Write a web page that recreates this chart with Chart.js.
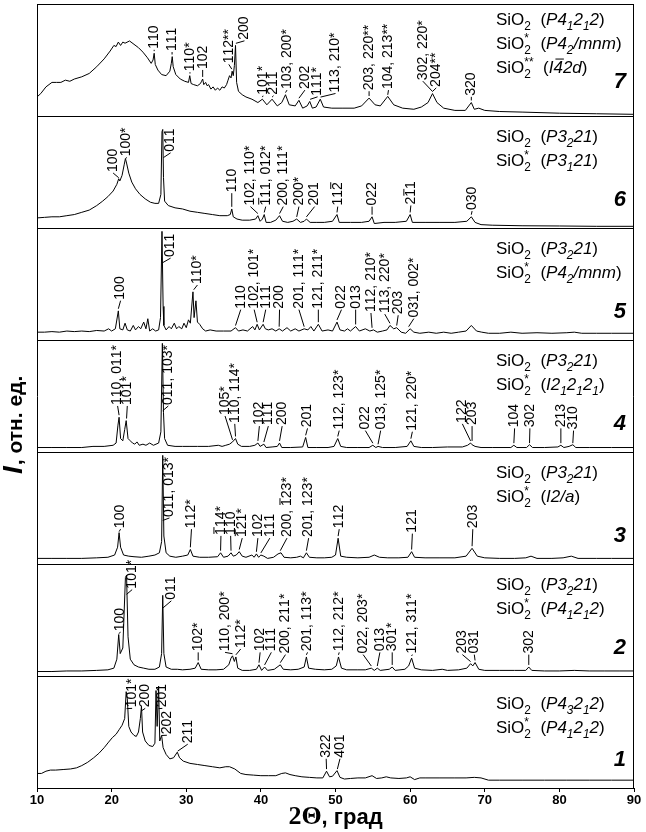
<!DOCTYPE html>
<html>
<head>
<meta charset="utf-8">
<script src="https://cdn.jsdelivr.net/npm/chart.js@4.4.0/dist/chart.umd.min.js"></script>
<style>
  html, body { margin: 0; padding: 0; background: #fff; }
</style>
</head>
<body>
<canvas id="xrd" width="646" height="832"></canvas>
<script>
const FONT = '"Liberation Sans", Arial, sans-serif';

// 2Theta axis
const xTicks = [10, 20, 30, 40, 50, 60, 70, 80, 90];

// spectra, [2theta, intensity as part of panel height], bottom panel = 1
const spec1 = [[10,0.13],[10.6,0.13],[11.2,0.15],[11.8,0.16],[12.5,0.16],[13.5,0.165],[14.5,0.17],[15.3,0.18],[16.0,0.2],[16.8,0.23],[17.6,0.27],[18.3,0.31],[19.0,0.36],[19.6,0.41],[20.1,0.45],[20.6,0.48],[21.0,0.52],[21.4,0.56],[21.75,0.62],[21.95,0.86],[22.1,0.8],[22.3,0.55],[22.6,0.5],[23.0,0.47],[23.3,0.46],[23.6,0.5],[23.85,0.62],[24.0,0.73],[24.15,0.5],[24.5,0.42],[25.0,0.38],[25.5,0.37],[25.8,0.4],[25.95,0.87],[26.1,0.55],[26.3,0.91],[26.45,0.42],[26.7,0.47],[26.9,0.36],[27.3,0.3],[27.8,0.26],[28.3,0.27],[28.8,0.32],[29.1,0.27],[29.6,0.24],[30.5,0.22],[31.5,0.21],[32.5,0.2],[33.5,0.19],[34.5,0.18],[35.3,0.19],[35.8,0.19],[36.5,0.17],[37.3,0.13],[38,0.12],[39,0.115],[40,0.11],[41,0.11],[42,0.11],[42.8,0.13],[43.3,0.135],[43.9,0.12],[44.6,0.11],[45.5,0.1],[46.5,0.095],[47.5,0.09],[48.3,0.09],[48.8,0.15],[49.2,0.1],[49.6,0.105],[50.2,0.155],[50.6,0.095],[51.2,0.08],[52,0.085],[53,0.09],[54,0.09],[54.9,0.11],[55.5,0.085],[56.2,0.09],[56.8,0.1],[57.4,0.09],[58.5,0.085],[59.5,0.09],[60,0.1],[60.6,0.075],[61.3,0.09],[62,0.09],[64,0.09],[66,0.09],[67.5,0.09],[68.6,0.095],[69.5,0.09],[70.5,0.07],[72,0.07],[75,0.07],[78,0.07],[81,0.07],[84,0.07],[87,0.07],[90,0.07]];

const spec2 = [[10,0.04],[12,0.04],[14,0.045],[16,0.045],[18,0.05],[19.5,0.055],[20.3,0.07],[20.7,0.15],[20.95,0.37],[21.15,0.2],[21.5,0.25],[21.85,0.88],[22.0,0.9],[22.2,0.35],[22.5,0.15],[23.0,0.1],[23.6,0.08],[24.3,0.07],[25,0.06],[25.8,0.06],[26.4,0.08],[26.7,0.2],[26.85,0.72],[27.0,0.2],[27.3,0.08],[28,0.06],[28.8,0.06],[29.5,0.055],[30.5,0.06],[31.2,0.07],[31.6,0.12],[32.0,0.06],[33,0.055],[34,0.055],[35,0.06],[35.7,0.1],[36.0,0.16],[36.2,0.18],[36.45,0.13],[36.65,0.17],[36.9,0.07],[37.5,0.05],[38.5,0.05],[39.4,0.06],[39.75,0.1],[40.1,0.05],[40.5,0.08],[40.9,0.05],[41.8,0.06],[42.6,0.1],[43,0.06],[44,0.055],[45,0.06],[45.8,0.08],[46.1,0.17],[46.4,0.07],[47.3,0.06],[48.5,0.055],[49.5,0.06],[50.1,0.09],[50.4,0.17],[50.8,0.07],[51.5,0.055],[53,0.055],[54,0.055],[54.8,0.07],[55.2,0.05],[55.6,0.07],[56,0.05],[57.2,0.06],[57.6,0.08],[58,0.05],[59.3,0.06],[59.8,0.09],[60.2,0.16],[60.6,0.07],[61.5,0.055],[63,0.05],[64.3,0.06],[65,0.05],[66.5,0.055],[67.6,0.07],[68.1,0.11],[68.4,0.09],[68.7,0.12],[69.2,0.06],[70,0.05],[72,0.05],[74,0.05],[75.5,0.05],[75.9,0.08],[76.3,0.05],[78,0.045],[80,0.045],[82,0.05],[84,0.045],[86,0.045],[88,0.045],[90,0.045]];

const spec3 = [[10,0.05],[12,0.05],[14,0.05],[16,0.05],[18,0.055],[19.5,0.06],[20.4,0.08],[20.8,0.15],[21.0,0.28],[21.2,0.15],[21.6,0.08],[22.3,0.07],[23,0.065],[24,0.06],[25,0.07],[25.8,0.08],[26.4,0.1],[26.7,0.2],[26.85,0.97],[27.0,0.25],[27.3,0.1],[27.8,0.07],[28.6,0.06],[29.5,0.07],[30.2,0.08],[30.55,0.13],[30.9,0.07],[31.8,0.06],[33,0.06],[34.2,0.065],[34.6,0.1],[35,0.06],[35.6,0.07],[36.0,0.1],[36.3,0.07],[36.7,0.08],[37.1,0.11],[37.5,0.07],[38,0.06],[38.8,0.08],[39.1,0.06],[39.4,0.09],[39.7,0.06],[40.0,0.08],[40.4,0.07],[40.9,0.05],[41.7,0.06],[42.3,0.09],[42.7,0.1],[43.1,0.06],[44,0.055],[44.8,0.06],[45.3,0.07],[45.7,0.055],[46.1,0.1],[46.5,0.06],[47.5,0.055],[48.5,0.055],[49.5,0.06],[50.0,0.08],[50.35,0.23],[50.7,0.07],[51.5,0.06],[53,0.055],[54.5,0.06],[55.2,0.08],[55.9,0.06],[57,0.055],[58.5,0.055],[59.7,0.06],[60.2,0.11],[60.6,0.06],[62,0.055],[64,0.055],[66,0.055],[67.5,0.07],[68.3,0.14],[69.0,0.07],[70,0.055],[72,0.05],[74,0.05],[75.5,0.055],[76.2,0.07],[77,0.05],[79,0.05],[80.5,0.055],[81.6,0.07],[82.5,0.05],[85,0.05],[87,0.05],[90,0.05]];

const spec4 = [[10,0.04],[12,0.04],[14,0.04],[16,0.04],[17.5,0.05],[19,0.05],[20.2,0.06],[20.6,0.08],[20.85,0.24],[21.0,0.31],[21.2,0.12],[21.5,0.1],[21.75,0.2],[21.95,0.28],[22.2,0.12],[22.5,0.1],[22.8,0.08],[23.1,0.07],[23.4,0.09],[23.7,0.06],[24.2,0.07],[24.6,0.06],[25.1,0.08],[25.6,0.06],[26.3,0.08],[26.6,0.18],[26.8,0.97],[26.95,0.35],[27.1,0.12],[27.5,0.06],[28.5,0.05],[29.5,0.05],[30.5,0.05],[31.5,0.05],[33,0.05],[34.3,0.06],[34.8,0.05],[35.3,0.06],[35.8,0.07],[36.2,0.09],[36.6,0.12],[36.9,0.07],[37.4,0.05],[38.5,0.05],[39.2,0.06],[39.6,0.08],[39.9,0.05],[40.4,0.07],[40.7,0.04],[41.5,0.045],[42.2,0.05],[42.5,0.08],[42.8,0.04],[44,0.04],[45.6,0.045],[46.0,0.13],[46.3,0.04],[47.5,0.04],[49,0.04],[49.8,0.05],[50.3,0.12],[50.7,0.05],[51.5,0.04],[53,0.04],[54.5,0.04],[55.0,0.06],[55.4,0.04],[55.7,0.05],[56.3,0.04],[58,0.04],[59.6,0.05],[60.1,0.1],[60.5,0.05],[61.5,0.04],[63,0.04],[65,0.045],[67,0.045],[67.7,0.06],[68.1,0.08],[68.3,0.065],[68.7,0.05],[69.5,0.04],[71,0.04],[73.5,0.04],[73.9,0.06],[74.3,0.04],[75.6,0.04],[76.0,0.065],[76.4,0.04],[78,0.04],[79.8,0.045],[80.2,0.06],[80.6,0.04],[81.3,0.05],[81.8,0.065],[82.2,0.04],[84,0.04],[87,0.04],[90,0.04]];

const spec5 = [[10,0.07],[11,0.07],[12,0.075],[13,0.07],[14,0.08],[15,0.075],[16,0.08],[17,0.075],[18,0.085],[19,0.08],[19.6,0.1],[20.0,0.08],[20.5,0.1],[20.9,0.26],[21.1,0.1],[21.5,0.09],[21.8,0.15],[22.1,0.09],[22.5,0.08],[22.9,0.13],[23.2,0.09],[23.6,0.12],[23.9,0.1],[24.3,0.16],[24.6,0.1],[24.85,0.19],[25.1,0.08],[25.5,0.1],[25.9,0.08],[26.3,0.09],[26.55,0.2],[26.75,0.97],[26.9,0.3],[27.0,0.13],[27.3,0.09],[27.7,0.12],[28.0,0.1],[28.4,0.15],[28.7,0.1],[29.0,0.12],[29.4,0.1],[29.7,0.15],[30.0,0.11],[30.3,0.18],[30.55,0.15],[30.9,0.43],[31.05,0.2],[31.3,0.35],[31.5,0.16],[31.8,0.14],[32.2,0.1],[32.6,0.08],[33.2,0.09],[34,0.08],[35,0.08],[36,0.08],[36.6,0.11],[37,0.08],[37.6,0.09],[38.2,0.08],[38.9,0.12],[39.2,0.09],[39.5,0.14],[39.8,0.09],[40.3,0.14],[40.6,0.1],[41,0.09],[41.5,0.1],[42.0,0.08],[42.45,0.1],[42.9,0.08],[43.5,0.11],[44,0.08],[44.6,0.1],[45.1,0.08],[45.8,0.1],[46.3,0.09],[46.7,0.12],[47.1,0.08],[47.7,0.14],[48.2,0.08],[49,0.09],[49.6,0.08],[50.2,0.16],[50.6,0.09],[51.2,0.08],[51.6,0.1],[52.0,0.08],[52.7,0.12],[53.2,0.08],[54,0.1],[54.6,0.08],[55.1,0.09],[55.6,0.07],[56.3,0.08],[56.9,0.09],[57.3,0.13],[57.8,0.1],[58.2,0.11],[58.8,0.07],[59.4,0.06],[60.0,0.1],[60.5,0.07],[61.3,0.06],[62.5,0.07],[63.5,0.06],[64.5,0.07],[65.5,0.06],[66.5,0.07],[67.5,0.08],[68.2,0.13],[68.9,0.08],[69.6,0.07],[70.5,0.06],[72,0.06],[73.5,0.07],[75,0.06],[77,0.065],[79,0.06],[81,0.065],[82,0.07],[83,0.06],[85,0.06],[87,0.06],[90,0.06]];

const spec6 = [[10,0.09],[11,0.095],[12,0.10],[13,0.10],[14,0.11],[15,0.12],[16,0.14],[17,0.16],[18,0.2],[18.8,0.24],[19.5,0.28],[20.2,0.33],[20.7,0.39],[20.95,0.44],[21.1,0.42],[21.4,0.47],[21.7,0.57],[21.85,0.62],[22.0,0.58],[22.3,0.49],[22.7,0.41],[23.2,0.35],[23.8,0.3],[24.5,0.26],[25.2,0.23],[25.8,0.22],[26.3,0.22],[26.6,0.30],[26.75,0.86],[26.85,0.88],[26.95,0.45],[27.1,0.24],[27.6,0.2],[28.5,0.18],[29.5,0.17],[30.5,0.15],[31.5,0.14],[32.5,0.13],[33.5,0.12],[34.5,0.11],[35.5,0.11],[35.9,0.12],[36.1,0.17],[36.3,0.1],[36.8,0.08],[37.5,0.07],[38.5,0.07],[39.3,0.08],[39.6,0.11],[39.9,0.06],[40.2,0.08],[40.45,0.12],[40.7,0.05],[41.3,0.05],[42.0,0.07],[42.5,0.11],[42.9,0.06],[43.6,0.05],[44.3,0.06],[44.8,0.08],[45.3,0.05],[45.8,0.06],[46.1,0.08],[46.6,0.05],[47.5,0.05],[48.5,0.05],[49.6,0.06],[50.2,0.12],[50.5,0.05],[52,0.05],[53.5,0.05],[54.5,0.06],[54.9,0.10],[55.2,0.04],[56.5,0.05],[58,0.05],[59.5,0.06],[60.0,0.12],[60.3,0.05],[62,0.05],[64,0.05],[66,0.05],[67.6,0.06],[68.2,0.10],[68.7,0.05],[69.5,0.03],[71,0.025],[75,0.02],[80,0.018],[85,0.015],[90,0.015]];

const spec7 = [[10.0,0.17],[10.5,0.2],[11.2,0.26],[12.0,0.3],[12.6,0.3],[13.2,0.3],[13.8,0.32],[14.4,0.31],[15.0,0.33],[16.0,0.35],[17.0,0.38],[18.0,0.44],[19.0,0.51],[19.8,0.58],[20.3,0.63],[20.6,0.62],[20.9,0.66],[21.2,0.63],[21.5,0.66],[21.8,0.65],[22.4,0.67],[23.0,0.64],[23.6,0.61],[24.2,0.57],[24.8,0.52],[25.3,0.47],[25.55,0.50],[25.7,0.56],[25.85,0.46],[26.2,0.41],[26.7,0.37],[27.3,0.36],[27.8,0.40],[28.0,0.47],[28.12,0.53],[28.25,0.44],[28.6,0.37],[29.2,0.33],[29.8,0.31],[30.3,0.30],[30.47,0.36],[30.65,0.29],[31.0,0.28],[31.5,0.27],[31.9,0.29],[32.05,0.31],[32.2,0.33],[32.35,0.28],[32.6,0.30],[32.8,0.27],[33.0,0.28],[33.3,0.24],[33.6,0.26],[33.9,0.23],[34.2,0.25],[34.5,0.23],[34.8,0.26],[35.1,0.25],[35.4,0.28],[35.6,0.32],[35.8,0.36],[36.0,0.34],[36.15,0.40],[36.3,0.36],[36.45,0.45],[36.6,0.63],[36.75,0.30],[37.0,0.22],[37.5,0.19],[38.0,0.17],[38.8,0.15],[39.6,0.12],[40.2,0.15],[40.8,0.10],[41.5,0.15],[42.2,0.09],[42.8,0.12],[43.3,0.19],[43.8,0.10],[44.6,0.09],[45.1,0.14],[45.6,0.07],[46.2,0.09],[46.55,0.13],[46.9,0.07],[47.4,0.08],[47.96,0.15],[48.4,0.08],[49.5,0.07],[51,0.07],[52.5,0.07],[53.5,0.09],[54.5,0.16],[55.3,0.10],[56.0,0.09],[57.0,0.175],[57.8,0.10],[59.0,0.07],[60.5,0.06],[61.5,0.08],[62.4,0.12],[63.0,0.2],[63.6,0.12],[64.5,0.07],[66,0.05],[67.4,0.05],[68.2,0.12],[68.6,0.06],[69.2,0.07],[70,0.05],[72,0.04],[75,0.035],[80,0.025],[85,0.02],[90,0.015]];

// peak labels: [text, text 2theta, text foot, peak 2theta, peak height]; "~" puts a bar over the next digit
const lab1 = [['101*',22.75,0.72,22.0,0.7],['200',24.5,0.72,24.0,0.68],['201',26.8,0.72,26.3,0.7],['202',27.4,0.48,26.75,0.46],['211',30.2,0.4,28.85,0.32],['322',48.75,0.27,48.8,0.16],['401',50.6,0.27,50.25,0.16]];
const lab2 = [['100',21.2,0.4,20.95,0.37],['101*',22.75,0.78,22.0,0.72],['011',28.0,0.68,26.9,0.6],['102*',31.6,0.22,31.6,0.13],['110, 200*',35.2,0.22,36.2,0.19],['112*',37.3,0.25,36.65,0.18],['102',39.9,0.22,39.75,0.11],['111',41.4,0.22,40.5,0.09],['200, 211*',43.3,0.2,42.6,0.11],['201, 113*',46.25,0.22,46.1,0.18],['112, 212*',50.5,0.22,50.4,0.18],['022, 203*',53.7,0.2,54.8,0.08],['013',55.95,0.22,55.6,0.08],['301*',57.6,0.22,57.6,0.09],['121, 311*',60.3,0.2,60.2,0.17],['203',67.0,0.2,68.1,0.12],['031',68.6,0.2,68.7,0.13],['302',75.9,0.2,75.9,0.09]];
const lab3 = [['100',21.2,0.32,21.0,0.28],['011, 013*',27.75,0.42,26.85,0.38],['112*',30.7,0.32,30.55,0.14],['~114*',34.65,0.26,34.6,0.11],['110',35.95,0.26,36.0,0.11],['~121*',37.5,0.24,37.1,0.12],['102',39.6,0.24,39.4,0.1],['111',41.2,0.24,40.0,0.09],['200, ~123*',43.5,0.24,42.6,0.11],['201, 123*',46.4,0.24,46.1,0.11],['112',50.5,0.32,50.35,0.24],['121',60.3,0.28,60.2,0.12],['203',68.4,0.32,68.3,0.15]];
const lab4 = [['110, 011*',20.8,0.42,21.0,0.32],['101*',22.1,0.42,22.0,0.29],['011, 103*',27.6,0.42,26.85,0.36],['105*',35.2,0.33,36.2,0.1],['110, 114*',36.5,0.26,36.6,0.13],['102',39.8,0.24,39.6,0.09],['111',41.0,0.24,40.4,0.08],['200',42.85,0.24,42.5,0.09],['201',46.25,0.22,46.0,0.14],['112, 123*',50.5,0.2,50.3,0.13],['022',54.0,0.2,55.0,0.07],['013, 125*',56.05,0.2,55.7,0.06],['121, 220*',60.3,0.19,60.1,0.11],['122',67.0,0.26,68.1,0.09],['203',68.3,0.24,68.3,0.09],['104',74.0,0.22,73.9,0.07],['302',76.05,0.22,76.0,0.07],['213',80.2,0.22,80.2,0.07],['310',81.9,0.2,81.8,0.07]];
const lab5 = [['100',21.2,0.36,20.9,0.27],['011',27.9,0.74,26.8,0.68],['110*',31.5,0.5,31.0,0.44],['110',37.3,0.28,36.6,0.12],['102, 101*',39.1,0.28,39.5,0.15],['111',40.65,0.28,40.3,0.15],['200',42.5,0.28,42.45,0.11],['201, 111*',45.1,0.28,45.8,0.11],['121, 211*',47.7,0.28,47.7,0.15],['022',50.8,0.28,50.2,0.17],['013',52.7,0.28,52.7,0.13],['112, 210*',54.75,0.25,54.9,0.1],['113, 220*',56.6,0.24,57.3,0.14],['203',58.4,0.23,58.2,0.12],['031, 002*',60.5,0.2,59.8,0.11]];
const lab6 = [['100',20.2,0.5,20.95,0.44],['100*',22.0,0.64,21.9,0.61],['011',27.9,0.68,26.95,0.62],['110',36.1,0.32,36.1,0.18],['102, 110*',38.6,0.2,39.6,0.12],['~111, 012*',40.65,0.2,40.45,0.13],['200, 111*',43.0,0.2,42.5,0.12],['200*',45.1,0.2,44.8,0.09],['201',47.2,0.2,46.1,0.09],['11~2',50.3,0.2,50.2,0.13],['022',54.9,0.2,54.9,0.11],['2~11',60.1,0.21,60.0,0.13],['030',68.3,0.16,68.2,0.11]];
const lab7 = [['110',25.7,0.6,25.7,0.57],['111',28.1,0.58,28.1,0.54],['110*',30.5,0.4,30.5,0.37],['102',32.2,0.42,32.2,0.34],['112**',35.7,0.47,36.1,0.41],['200',37.8,0.68,36.65,0.64],['101*',40.3,0.19,40.2,0.16],['211',41.7,0.19,41.5,0.16],['103, 200*',43.5,0.24,43.3,0.2],['202',45.9,0.24,45.1,0.15],['111*',47.6,0.18,46.6,0.14],['113, 210*',50.0,0.21,48.0,0.16],['203, 220**',54.5,0.23,54.5,0.17],['104, 213**',57.1,0.24,57.0,0.18],['302, 220*',61.7,0.32,63.0,0.21],['204**',63.5,0.26,63.0,0.21],['320',68.2,0.18,68.2,0.13]];

// phase legends: _ subscript, ^ stacked asterisks, {} italic, ~ bar
const leg1 = ['SiO_2  ({P4_32_12})', 'SiO_2^*  ({P4_12_12})'];
const leg2 = ['SiO_2  ({P3_221})', 'SiO_2^*  ({P4_12_12})'];
const leg3 = ['SiO_2  ({P3_221})', 'SiO_2^*  ({I2/a})'];
const leg4 = ['SiO_2  ({P3_221})', 'SiO_2^*  ({I2_12_12_1})'];
const leg5 = ['SiO_2  ({P3_221})', 'SiO_2^*  ({P4_2/mnm})'];
const leg6 = ['SiO_2  ({P3_221})', 'SiO_2^*  ({P3_121})'];
const leg7 = ['SiO_2  ({P4_12_12})', 'SiO_2^*  ({P4_2/mnm})', 'SiO_2^**  ({I~42d})'];

const panelNames = ['1', '2', '3', '4', '5', '6', '7'];
const spectra = [spec1, spec2, spec3, spec4, spec5, spec6, spec7];
const labels = [lab1, lab2, lab3, lab4, lab5, lab6, lab7];
const legends = [leg1, leg2, leg3, leg4, leg5, leg6, leg7];

function drawRich(ctx, str, x, y, size) {
  let italic = false;
  let cx = x, lastSubX = x;
  const f = (sz, it) => (it ? 'italic ' : '') + sz + 'px ' + FONT;
  for (let i = 0; i < str.length; i++) {
    const c = str[i];
    if (c === '{') { italic = true; continue; }
    if (c === '}') { italic = false; continue; }
    if (c === '_') {
      const s = str[++i];
      ctx.font = f(size * 0.7, italic);
      ctx.fillText(s, cx, y + size * 0.28);
      lastSubX = cx;
      cx += ctx.measureText(s).width;
      continue;
    }
    if (c === '^') {
      let st = '';
      while (str[i + 1] === '*') { st += '*'; i++; }
      ctx.font = f(size * 0.7, false);
      ctx.fillText(st, lastSubX, y - size * 0.42);
      cx = Math.max(cx, lastSubX + ctx.measureText(st).width);
      continue;
    }
    if (c === '~') {
      const s = str[++i];
      ctx.font = f(size, italic);
      const w = ctx.measureText(s).width;
      ctx.fillText(s, cx, y);
      ctx.beginPath();
      ctx.moveTo(cx + 2, y - size * 0.82);
      ctx.lineTo(cx + w + 1, y - size * 0.82);
      ctx.lineWidth = 1;
      ctx.stroke();
      cx += w;
      continue;
    }
    ctx.font = f(size, italic);
    ctx.fillText(c, cx, y);
    cx += ctx.measureText(c).width;
  }
}

const annotations = {
  id: 'annotations',
  afterDraw(chart) {
    const {ctx, chartArea: a, scales: {x, y}} = chart;
    ctx.save();
    ctx.strokeStyle = '#000';
    ctx.fillStyle = '#000';
    ctx.lineWidth = 1;
    // top and right frame
    ctx.beginPath();
    ctx.moveTo(a.left, a.top + 0.5);
    ctx.lineTo(a.right - 0.5, a.top + 0.5);
    ctx.lineTo(a.right - 0.5, a.bottom);
    ctx.stroke();

    labels.forEach((list, p) => {
      list.forEach(([t, tx, tb, px, pf]) => {
        const X = x.getPixelForValue(tx), Y = y.getPixelForValue(p + tb);
        const Xp = x.getPixelForValue(px), Yp = y.getPixelForValue(p + pf);
        if (Yp - Y > 2) {
          ctx.beginPath();
          ctx.moveTo(X, Y + 1);
          ctx.lineTo(Xp, Yp - 1);
          ctx.stroke();
        }
        ctx.save();
        ctx.translate(X, Y);
        ctx.rotate(-Math.PI / 2);
        ctx.textBaseline = 'middle';
        ctx.font = '14px ' + FONT;
        let cx = 0;
        for (let i = 0; i < t.length; i++) {
          let c = t[i], bar = false;
          if (c === '~') { bar = true; c = t[++i]; }
          const w = ctx.measureText(c).width;
          ctx.fillText(c, cx, 0);
          if (bar) {
            ctx.beginPath();
            ctx.moveTo(cx + 1, -7);
            ctx.lineTo(cx + w, -7);
            ctx.stroke();
          }
          cx += w;
        }
        ctx.restore();
      });

      const top = y.getPixelForValue(p + 1);
      const first = p === 0 ? 33 : (p === 6 ? 21 : 26);
      ctx.textBaseline = 'alphabetic';
      legends[p].forEach((line, k) => drawRich(ctx, line, 496, top + first + k * 24, 17));

      ctx.font = 'italic bold 22px ' + FONT;
      ctx.textAlign = 'right';
      ctx.fillText(panelNames[p], 626, top + (p === 6 ? 84 : 90));
      ctx.textAlign = 'left';
    });

    // axis titles
    const mid = (a.left + a.right) / 2;
    ctx.textBaseline = 'alphabetic';
    ctx.font = 'bold 26px "Liberation Serif", serif';
    const w1 = ctx.measureText('2Θ').width;
    ctx.font = 'bold 22px ' + FONT;
    const w2 = ctx.measureText(', град').width;
    const x0 = mid - (w1 + w2) / 2;
    ctx.font = 'bold 26px "Liberation Serif", serif';
    ctx.fillText('2Θ', x0, 824);
    ctx.font = 'bold 22px ' + FONT;
    ctx.fillText(', град', x0 + w1, 824);

    ctx.save();
    ctx.translate(22, 474);
    ctx.rotate(-Math.PI / 2);
    ctx.font = 'italic bold 28px ' + FONT;
    ctx.fillText('I', 0, 0);
    const wi = ctx.measureText('I').width;
    ctx.font = 'bold 21px ' + FONT;
    ctx.fillText(', отн. ед.', wi + 1, 0);
    ctx.restore();
    ctx.restore();
  }
};

new Chart(document.getElementById('xrd'), {
  type: 'line',
  data: {
    datasets: spectra.map((s, p) => ({
      data: s.map(([t, v]) => ({x: t, y: p + v})),
      borderColor: '#000',
      borderWidth: 1,
      pointRadius: 0,
      tension: 0,
      fill: false
    }))
  },
  options: {
    responsive: false,
    devicePixelRatio: 1,
    animation: false,
    layout: {padding: {top: 4, right: 12, left: 0, bottom: 0}},
    plugins: {legend: {display: false}, tooltip: {enabled: false}},
    scales: {
      x: {
        type: 'linear', min: 10, max: 90,
        afterBuildTicks: s => { s.ticks = xTicks.map(v => ({value: v})); },
        ticks: {color: '#000', font: {family: FONT, size: 13, weight: 'bold'}, maxRotation: 0, padding: 1},
        grid: {drawOnChartArea: false, color: '#000', tickLength: 4},
        border: {color: '#000', width: 1},
        afterFit: s => { s.height = 44; }
      },
      y: {
        type: 'linear', min: 0, max: 7,
        ticks: {display: false, stepSize: 1},
        grid: {color: '#000', drawTicks: false, lineWidth: 1},
        border: {color: '#000', width: 1},
        afterFit: s => { s.width = 37; }
      }
    }
  },
  plugins: [annotations]
});
</script>
</body>
</html>
